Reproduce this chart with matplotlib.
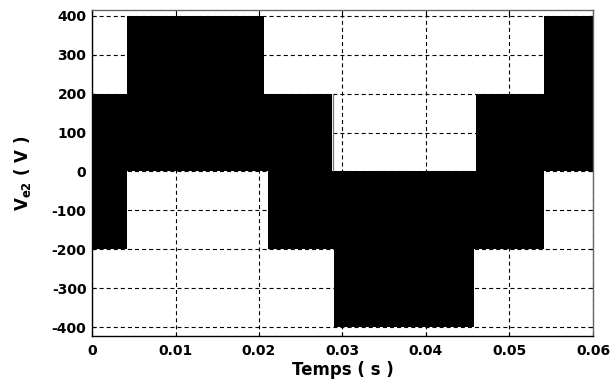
import matplotlib
matplotlib.use("Agg")
import matplotlib.pyplot as plt
import numpy as np

plt.rcParams["font.family"] = ["DejaVu Sans"]
plt.rcParams["font.weight"] = "bold"
plt.rcParams["mathtext.fontset"] = "dejavusans"
plt.rcParams["mathtext.default"] = "bf"
plt.rcParams["axes.unicode_minus"] = False
plt.rcParams["lines.scale_dashes"] = False

# Switching envelope of the phase voltage: within each interval the PWM
# output alternates between a lower and an upper level.
seg_start = [0.0, 0.00419, 0.0206, 0.0211, 0.0288, 0.0290, 0.04575, 0.0460, 0.0541]
seg_end = [0.00419, 0.0206, 0.0211, 0.0288, 0.0290, 0.04575, 0.0460, 0.0541, 0.06]
level_low = [-200, 0, 0, -200, -200, -400, -200, -200, 0]
level_high = [200, 400, 200, 200, 0, 0, 0, 200, 400]

# isolated narrow pulse just before the negative half-cycle
pulse_t = [0.02892]
pulse_low = [0]
pulse_high = [200]

x_ticks = [0, 0.01, 0.02, 0.03, 0.04, 0.05, 0.06]
x_tick_labels = ["0", "0.01", "0.02", "0.03", "0.04", "0.05", "0.06"]
y_ticks = [-400, -300, -200, -100, 0, 100, 200, 300, 400]
y_tick_labels = [str(v) for v in y_ticks]

fig = plt.figure(figsize=(6.11, 3.85), dpi=100)
ax = fig.add_axes([92 / 611, 1 - 336 / 385, 501 / 611, 326 / 385])

# grid first, waveform on top
ax.set_axisbelow(True)
ax.grid(True, color="black", linestyle=(0, (2.9, 2.2)), linewidth=0.8)

for s, e, lo, hi in zip(seg_start, seg_end, level_low, level_high):
    ax.fill_between([s, e], [lo, lo], [hi, hi], color="black", linewidth=0,
                    antialiased=False, zorder=2)

ax.vlines(pulse_t, pulse_low, pulse_high, color="#777777", linewidth=0.9, zorder=2)

ax.set_xlim(0, 0.06)
ax.set_ylim(-423, 415)
ax.set_xticks(x_ticks)
ax.set_xticklabels(x_tick_labels)
ax.set_yticks(y_ticks)
ax.set_yticklabels(y_tick_labels)
ax.tick_params(direction="in", length=3, width=0.8, top=True, right=True,
               labelsize=10, colors="black")
ax.tick_params(axis="x", pad=6)
ax.tick_params(axis="y", pad=4)
for lab in ax.get_xticklabels() + ax.get_yticklabels():
    lab.set_fontweight("bold")

for side in ("left", "bottom"):
    ax.spines[side].set_color("black")
    ax.spines[side].set_linewidth(1.0)
for side in ("top", "right"):
    ax.spines[side].set_color("#666666")
    ax.spines[side].set_linewidth(1.0)

ax.set_xlabel("Temps ( s )", fontsize=12, fontweight="bold")
ax.set_ylabel(r"V$_{e2}$ ( V )", fontsize=12, fontweight="bold")
ax.xaxis.set_label_coords(0.5, -0.078)
ax.yaxis.set_label_coords(-0.118, 0.5)

fig.savefig("out.png", dpi=100)
